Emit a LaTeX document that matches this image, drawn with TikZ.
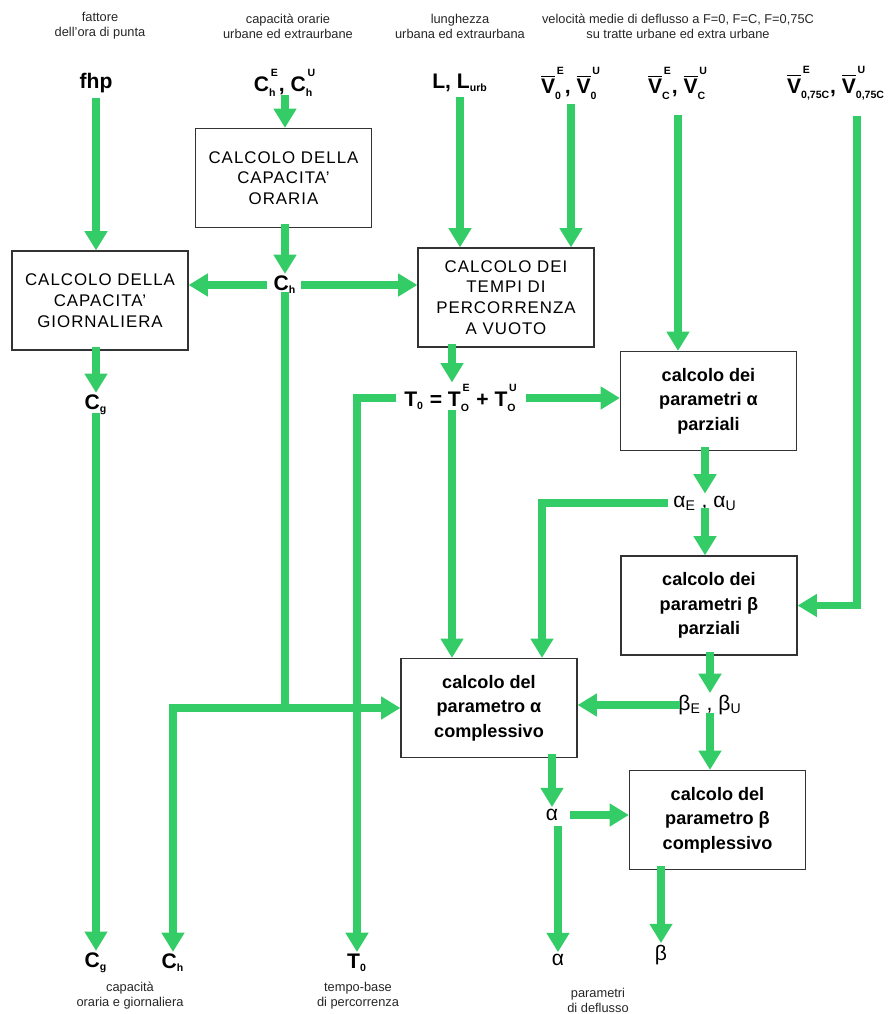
\documentclass[tikz,border=0pt]{standalone}
\usepackage{amsmath}
\usepackage{fontspec}
\setmainfont{Liberation Sans}
\newfontfamily\capsfont[LetterSpace=6]{Liberation Sans}
\usepackage{tikz}
\usetikzlibrary{arrows.meta,positioning,calc}
\definecolor{FlowGreen}{RGB}{51,204,102}
\definecolor{BoxGray}{HTML}{333333}

\newcommand{\idx}[3]{#1$_{\scriptscriptstyle\text{#2}}^{\raisebox{0.6ex}{$\scriptscriptstyle\text{\,#3}$}}$}
\newcommand{\sbs}[2]{#1$_{\scriptscriptstyle\text{#2}}$}
\newcommand{\gsb}[2]{#1$_{\text{#2}}$}
\newcommand{\vidx}[2]{$\overline{\text{V}}_{\scriptscriptstyle\text{#1}}^{\raisebox{0.6ex}{$\scriptscriptstyle\text{\,#2}$}}$}

\begin{document}
\begin{tikzpicture}[x=0.02cm,y=-0.02cm,
  flow/.style={line width=4.5pt,FlowGreen,line cap=rect,-{Triangle[width=12.5pt,length=11pt]}},
  flowline/.style={line width=4.5pt,FlowGreen,line cap=rect},
  calcbox/.style={draw=BoxGray,line width=0.7pt,minimum width=3.52cm,minimum height=1.98cm,align=center,inner sep=2pt},
  capsbox/.style={calcbox,font=\capsfont\fontsize{9.6}{11.8}\selectfont},
  lowbox/.style={calcbox,font=\bfseries\fontsize{10.3}{14}\selectfont},
  varlab/.style={font=\bfseries\fontsize{12}{14}\selectfont,inner sep=1pt},
  greeklab/.style={font=\fontsize{12}{14}\selectfont,inner sep=1pt},
  note/.style={font=\fontsize{7.3}{8.6}\selectfont,align=center,text=black!85}]
  \useasboundingbox (0,0) rectangle (892,1014);

  % intestazioni
  \node[note] (hfhp) at (100,26) {fattore\\dell'ora di punta};
  \node[note] (hcap) at (288,26) {capacità orarie\\urbane ed extraurbane};
  \node[note] (hlun) at (460,26) {lunghezza\\urbana ed extraurbana};
  \node[note] (hvel) at (678,26) {velocità medie di deflusso a F=0, F=C, F=0,75C\\su tratte urbane ed extra urbane};

  % dati di ingresso
  \node[varlab] (fhp) at (96,83) {fhp};
  \node[varlab] (chin) at (285,83) {\idx{C}{h}{E}, \idx{C}{h}{U}};
  \node[varlab] (lun) at (460,83) {L, \sbs{L}{urb}};
  \node[varlab] (v0) at (571,83) {\vidx{0}{E}, \vidx{0}{U}};
  \node[varlab] (vc) at (678,83) {\vidx{C}{E}, \vidx{C}{U}};
  \node[varlab] (v75) at (836,83) {\vidx{0,75C}{E}, \vidx{0,75C}{U}};
  \coordinate (colT) at (452,0);
  \coordinate (colA) at (542,0);
  \coordinate (colV) at (857,0);

  % blocchi di calcolo
  \node[capsbox] (orario) at (283.5,178) {CALCOLO DELLA\\CAPACITA’\\ORARIA};
  \node[capsbox] (giorn) at (100,300.5) {CALCOLO DELLA\\CAPACITA’\\GIORNALIERA};
  \node[capsbox] (tempi) at (506,297.5) {CALCOLO DEI\\TEMPI DI\\PERCORRENZA\\A VUOTO};
  \node[lowbox] (apar) at (708.5,401) {calcolo dei\\parametri α\\parziali};
  \node[lowbox] (bpar) at (709,605.5) {calcolo dei\\parametri β\\parziali};
  \node[lowbox] (acom) at (489,708) {calcolo del\\parametro α\\complessivo};
  \node[lowbox] (bcom) at (717.5,820) {calcolo del\\parametro β\\complessivo};

  % risultati intermedi
  \node[varlab] (ch) at (285,285) {\sbs{C}{h}};
  \node[varlab] (cg) at (96,405) {\sbs{C}{g}};
  \node[varlab] (t0) at (461,398) {\sbs{T}{0} = \idx{T}{O}{E} + \idx{T}{O}{U}};
  \node[greeklab] (ae) at (705,503) {\gsb{α}{E} , \gsb{α}{U}};
  \node[greeklab] (be) at (710,705) {\gsb{β}{E} , \gsb{β}{U}};
  \node[greeklab] (al) at (552,815) {α};

  % uscite
  \node[varlab] (cgb) at (96,963) {\sbs{C}{g}};
  \node[varlab] (chb) at (173,963) {\sbs{C}{h}};
  \node[varlab] (t0b) at (357,963) {\sbs{T}{0}};
  \node[greeklab] (alb) at (558,960) {α};
  \node[greeklab] (bb) at (661,955) {β};
  \node[note] (ncap) at (130,996) {capacità\\oraria e giornaliera};
  \node[note] (ntem) at (358,996) {tempo-base\\di percorrenza};
  \node[note] (npar) at (598,1000) {parametri\\di deflusso};

  % collegamenti
  \draw[flow,shorten <=4pt] (fhp.south) -- (fhp.south |- giorn.north);
  \draw[flow] (chin.south) -- (chin.south |- orario.north);
  \draw[flow] (orario.south -| ch.north) -- (ch.north);
  \draw[flow,shorten <=5pt] (ch.west) -- (ch.west -| giorn.east);
  \draw[flow,shorten <=4pt] (ch.east) -- (ch.east -| tempi.west);
  \draw[flowline] (ch.south) -- (ch.south |- acom.west);
  \draw[flow] (chb.north |- acom.west) -- (acom.west);
  \draw[flow] (acom.west -| chb.north) -- (chb.north);
  \draw[flow] (giorn.south -| cg.north) -- (cg.north);
  \draw[flow] (cg.south) -- (cgb.north);
  \draw[flow,shorten <=4pt] (lun.south) -- (lun.south |- tempi.north);
  \draw[flow,shorten <=4pt] (v0.south) -- (v0.south |- tempi.north);
  \draw[flow,shorten <=10pt] (vc.south) -- (vc.south |- apar.north);
  \draw[flow,shorten <=10pt] (v75.south -| colV) -- (colV |- bpar.east) -- (bpar.east);
  \draw[flow] (tempi.south -| colT) -- (t0.north -| colT);
  \draw[flow,shorten <=6pt] (t0.east) -- (t0.east -| apar.west);
  \draw[flow,shorten <=6pt] (t0.west) -- (t0.west -| t0b.north) -- (t0b.north);
  \draw[flow] (t0.south -| colT) -- (acom.north -| colT);
  \draw[flow] (apar.south -| ae.north) -- (ae.north);
  \draw[flow,shorten <=4pt] (ae.west) -- (ae.west -| colA) -- (acom.north -| colA);
  \draw[flow] (ae.south) -- (ae.south |- bpar.north);
  \draw[flow] (bpar.south -| be.north) -- (be.north);
  \draw[flow] (be.west) -- (be.west -| acom.east);
  \draw[flow] (be.south) -- (be.south |- bcom.north);
  \draw[flow] (acom.south -| al.north) -- (al.north);
  \draw[flow,shorten <=8pt] (al.east) -- (al.east -| bcom.west);
  \draw[flow,shorten <=4pt] (al.south -| alb.north) -- (alb.north);
  \draw[flow] (bcom.south -| bb.north) -- (bb.north);
\end{tikzpicture}
\end{document}
